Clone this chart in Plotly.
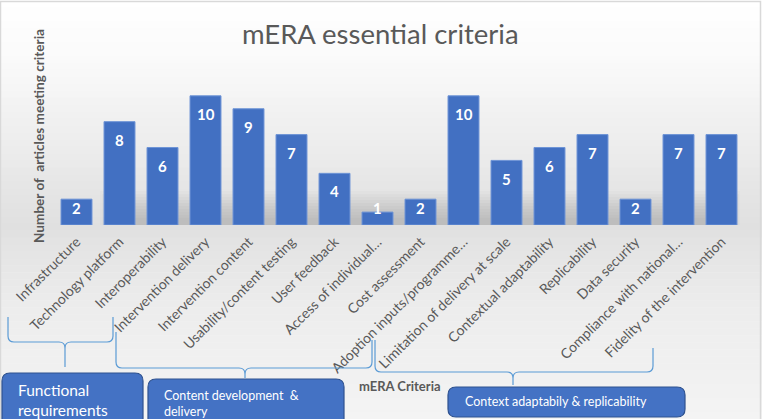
import plotly.graph_objects as go

# ---------------- data ----------------
criteria = [
    "Infrastructure", "Technology platform", "Interoperability",
    "Intervention delivery", "Intervention content", "Usability/content testing",
    "User feedback", "Access of individual\u2026", "Cost assessment",
    "Adoption inputs/programme\u2026", "Limitation of delivery at scale",
    "Contextual adaptability", "Replicability", "Data security",
    "Compliance with national\u2026", "Fidelity of the intervention",
]
articles = [2, 8, 6, 10, 9, 7, 4, 1, 2, 10, 5, 6, 7, 2, 7, 7]
title_text = "mERA essential criteria"
y_title = "Number of \u00a0articles meeting criteria"
x_title = "mERA Criteria"
group_labels = ["Functional<br>requirements",
                "Content development\u00a0 &<br>delivery",
                "Context adaptabily & replicability"]

# ---------------- layout geometry (pixels) ----------------
W, H = 762, 419
L, R, T, B = 55, 19, 70, 194
PW, PH = W - L - R, H - T - B


def px(x):
    return (x - L) / PW


def py(y):
    return (H - B - y) / PH


def pt(x, y):
    return f"{px(x):.5f},{py(y):.5f}"


GRAY = "#595959"
BLUE = "#4472c4"
FONT = "Lato"

fig = go.Figure()
fig.add_trace(go.Bar(
    x=criteria, y=articles,
    marker=dict(color="#4270c2", line=dict(color="#6e94d6", width=1)),
    width=0.72, hoverinfo="x+y",
))

shapes = []
# background gradient strips
stops = [(0, (255, 255, 255)), (60, (250, 250, 250)), (225, (224, 224, 224)),
         (300, (236, 236, 236)), (419, (244, 244, 244))]
n = 60
for i in range(n):
    y0 = H * i / n
    y1 = H * (i + 1) / n
    ym = (y0 + y1) / 2
    for (a, ca), (b, cb) in zip(stops[:-1], stops[1:]):
        if a <= ym <= b:
            t = (ym - a) / (b - a)
            c = tuple(int(round(ca[k] + (cb[k] - ca[k]) * t)) for k in range(3))
            break
    shapes.append(dict(type="rect", xref="paper", yref="paper",
                       x0=px(0), x1=px(W), y0=py(y1 + 0.5), y1=py(y0),
                       fillcolor=f"rgb{c}", line=dict(width=0), layer="below"))
# soft shadow at the baseline
for k in range(10):
    hgt = 34 - k * 3
    shapes.append(dict(type="rect", xref="paper", yref="paper",
                       x0=px(100 + k * 2), x1=px(740 - k), y0=py(225), y1=py(225 - hgt),
                       fillcolor="rgba(60,60,60,0.018)", line=dict(width=0),
                       layer="below"))
# outer border
shapes.append(dict(type="rect", xref="paper", yref="paper",
                   x0=px(0.5), x1=px(W - 1.5), y0=py(H + 5), y1=py(1.5),
                   line=dict(color="#d9d9d9", width=1.5), fillcolor="rgba(0,0,0,0)"))


def brace(x0, x1, top_l, top_r, yh, xt, yt, r=6):
    d = (f"M{pt(x0, top_l)} L{pt(x0, yh - r)} Q{pt(x0, yh)} {pt(x0 + r, yh)} "
         f"L{pt(xt - r, yh)} Q{pt(xt, yh)} {pt(xt, min(yh + r, yt))} L{pt(xt, yt)} "
         f"M{pt(xt, min(yh + r, yt))} Q{pt(xt, yh)} {pt(xt + r, yh)} "
         f"L{pt(x1 - r, yh)} Q{pt(x1, yh)} {pt(x1, yh - r)} L{pt(x1, top_r)}")
    return dict(type="path", xref="paper", yref="paper", path=d,
                line=dict(color="#5b9bd5", width=1.2))


shapes.append(brace(8, 113, 317, 317, 342, 65, 367))
shapes.append(brace(116, 372, 332, 340, 368, 245, 378))
shapes.append(brace(375, 653, 340, 348, 372, 513, 385))


def rbox(x0, y0, x1, y1, r=8):
    d = (f"M{pt(x0 + r, y0)} L{pt(x1 - r, y0)} Q{pt(x1, y0)} {pt(x1, y0 + r)} "
         f"L{pt(x1, y1 - r)} Q{pt(x1, y1)} {pt(x1 - r, y1)} L{pt(x0 + r, y1)} "
         f"Q{pt(x0, y1)} {pt(x0, y1 - r)} L{pt(x0, y0 + r)} Q{pt(x0, y0)} {pt(x0 + r, y0)} Z")
    return dict(type="path", xref="paper", yref="paper", path=d,
                fillcolor=BLUE, line=dict(color="#2f528f", width=1.2))


shapes.append(rbox(2, 373, 143, 428))
shapes.append(rbox(148, 379, 344, 428))
shapes.append(rbox(448, 387, 685, 417))

annotations = []
# value labels
for c, v in zip(criteria, articles):
    annotations.append(dict(x=c, y=max(v - 1.4, 1.28), xref="x", yref="y",
                            text=f"<b>{v}</b>", showarrow=False,
                            font=dict(family=FONT, size=15, color="white")))
# y-axis title
annotations.append(dict(x=px(29), y=py(136), xref="paper", yref="paper",
                        text=f"<b>{y_title}</b>", textangle=-90, showarrow=False,
                        font=dict(family=FONT, size=13.6, color=GRAY)))
# x-axis title
annotations.append(dict(x=px(400), y=py(396), xref="paper", yref="paper",
                        text=f"<b>{x_title}</b>", showarrow=False,
                        font=dict(family=FONT, size=13, color=GRAY)))
# group labels
for (x, y, s), lab in zip([(16, 400, 15.5), (162, 403, 12.5), (463, 402, 12.5)], group_labels):
    annotations.append(dict(x=px(x), y=py(y), xref="paper", yref="paper",
                            xanchor="left", yanchor="middle", align="left",
                            text=lab, showarrow=False,
                            font=dict(family=FONT, size=s, color="white")))

fig.update_layout(
    width=W, height=H,
    margin=dict(l=L, r=R, t=T, b=B, autoexpand=False),
    paper_bgcolor="white", plot_bgcolor="rgba(0,0,0,0)",
    title=dict(text=title_text, x=0.499, xanchor="center", y=1 - 34 / H,
               yanchor="middle", font=dict(family=FONT, size=27.5, color=GRAY)),
    xaxis=dict(tickangle=-45, tickfont=dict(family=FONT, size=14, color=GRAY),
               showline=False, showgrid=False, ticks="", automargin=False,
               ticklabelstandoff=5),
    yaxis=dict(range=[0, 12], showticklabels=False, showgrid=False,
               zeroline=False, showline=False, automargin=False),
    shapes=shapes, annotations=annotations, showlegend=False,
    bargap=0.28,
)
fig.write_html("out.html",
               config={"displayModeBar": False},
               post_script="document.body.style.margin='0';"
                           "document.body.style.overflow='hidden';")
